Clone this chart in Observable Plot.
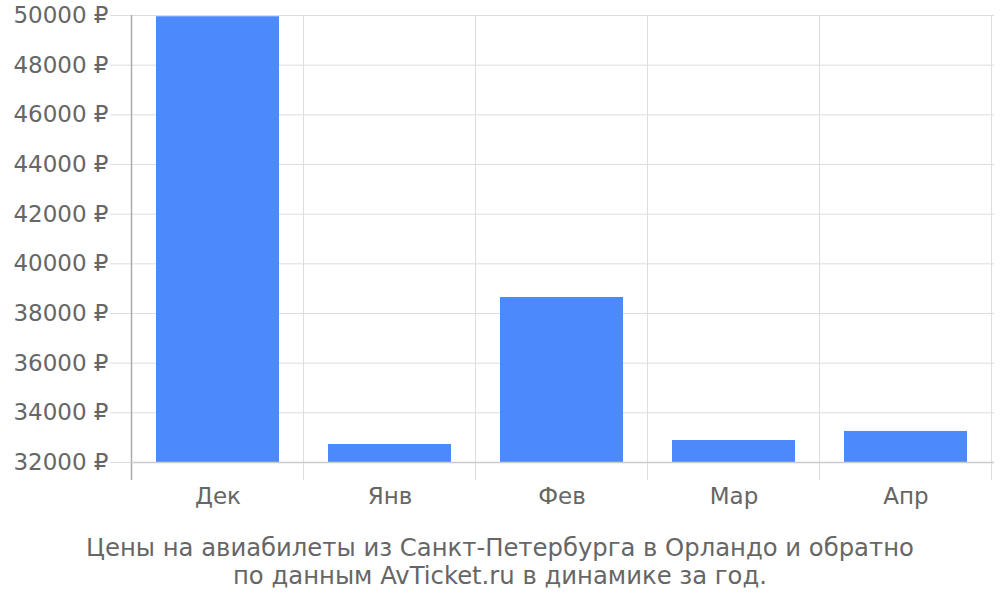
<!DOCTYPE html>
<html>
<head>
<meta charset="utf-8">
<script src="https://cdn.jsdelivr.net/npm/d3@7"></script>
<script src="https://cdn.jsdelivr.net/npm/@observablehq/plot@0.6"></script>
<style>
  html, body { margin: 0; padding: 0; background: #fff; }
  #chart { width: 1000px; }
  .caption { width: 1000px; text-align: center; font-family: "DejaVu Sans", sans-serif; font-size: 24.3px; line-height: 28px; color: #666; margin-top: 14px; }
</style>
</head>
<body>
<div id="chart"></div>
<script>
const months = ["Дек", "Янв", "Фев", "Мар", "Апр"];
const prices = [49950, 32725, 38645, 32885, 33250];
const yTicks = [32000, 34000, 36000, 38000, 40000, 42000, 44000, 46000, 48000, 50000];
const captionLines = [
  "Цены на авиабилеты из Санкт-Петербурга в Орландо и обратно",
  "по данным AvTicket.ru в динамике за год."
];

const data = months.map((m, i) => ({month: m, price: prices[i]}));

function bandLines(index, scales, values, dimensions) {
  const x = scales.x;
  const step = x.step();
  const bw = x.bandwidth();
  const edges = months.map(m => x(m) - (step - bw) / 2);
  edges.push(edges[edges.length - 1] + step);
  const top = dimensions.marginTop;
  const bottom = dimensions.height - dimensions.marginBottom + 18;
  const g = d3.create("svg:g");
  g.selectAll("line").data(edges).join("line")
    .attr("x1", d => d).attr("x2", d => d)
    .attr("y1", top).attr("y2", bottom)
    .attr("stroke", (d, i) => i === 0 ? "#aaa" : "#ddd")
    .attr("stroke-width", (d, i) => i === 0 ? 1.5 : 1);
  return g.node();
}

const chart = Plot.plot({
  width: 1000,
  height: 520,
  marginTop: 15,
  marginBottom: 58,
  marginLeft: 130,
  marginRight: 6,
  style: {fontFamily: "DejaVu Sans, sans-serif", background: "#fff", overflow: "visible"},
  x: {domain: months, paddingInner: 0.282, paddingOuter: 0.141, label: null},
  y: {domain: [32000, 50000], label: null},
  marks: [
    Plot.axisY({ticks: yTicks, tickSize: 20, tickPadding: 2, stroke: "#ddd", strokeOpacity: 1, fill: "#666", fontSize: 23, tickFormat: d => d + " ₽", label: null}),
    Plot.gridY(yTicks, {stroke: "#ddd", strokeOpacity: 1}),
    bandLines,
    Plot.barY(data, {x: "month", y1: 32000, y2: "price", fill: "#4c89fa"}),
    Plot.ruleY([32000], {stroke: "#ccc", strokeWidth: 1.5}),
    Plot.axisX({tickSize: 0, tickPadding: 25, fill: "#666", fontSize: 23, label: null})
  ]
});
document.getElementById("chart").appendChild(chart);

const cap = document.createElement("div");
cap.className = "caption";
cap.innerHTML = captionLines.join("<br>");
document.body.appendChild(cap);
</script>
</body>
</html>
